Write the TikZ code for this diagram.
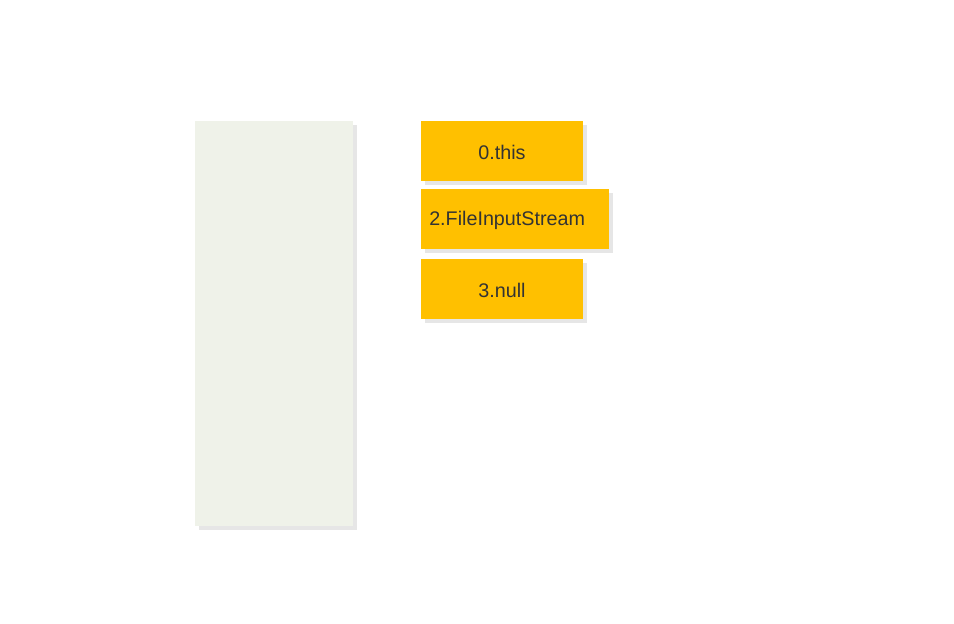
\documentclass[tikz,border=0pt]{standalone}
\usepackage{fontspec}
\setmainfont{Liberation Sans}
\definecolor{boxfill}{HTML}{FFC000}
\definecolor{panelfill}{HTML}{EFF2E9}
\definecolor{shadowgray}{HTML}{E6E6E6}
\definecolor{txt}{HTML}{333333}
\begin{document}
\begin{tikzpicture}[x=0.75pt,y=-0.75pt,
  dropshadow/.style={fill=shadowgray},
  card/.style={fill=boxfill},
  lbl/.style={text=txt,font=\fontsize{14.8}{17}\selectfont,inner sep=0pt}]
\useasboundingbox (0,0) rectangle (954,624);
% panel
\fill[dropshadow] (199,125) rectangle (357,530);
\fill[fill=panelfill] (195,121) rectangle (353,526);
\coordinate (panel) at (274,323);
% boxes
\fill[dropshadow] (425,125) rectangle (587,185);
\fill[card] (421,121) rectangle (583,181);
\node[lbl] (b0) at (502,152.5) {0.this};
\fill[dropshadow] (425,193) rectangle (613,253);
\fill[card] (421,189) rectangle (609,249);
\node[lbl,anchor=west] (b2) at (429,220.5) {2.FileInputStream};
\fill[dropshadow] (425,263) rectangle (587,323);
\fill[card] (421,259) rectangle (583,319);
\node[lbl] (b3) at (502,290.5) {3.null};
\end{tikzpicture}
\end{document}
